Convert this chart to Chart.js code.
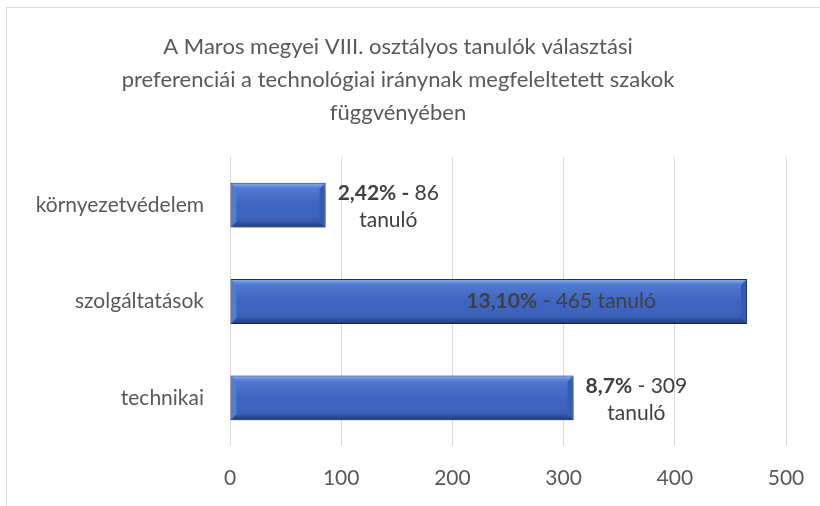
<!DOCTYPE html>
<html>
<head>
<meta charset="utf-8">
<script src="https://cdn.jsdelivr.net/npm/chart.js@4.4.1/dist/chart.umd.min.js"></script>
<style>
  body { margin: 0; background: #ffffff; }
  #wrap { position: relative; width: 820px; height: 506px; overflow: hidden; }
  #frame { position: absolute; left: 6px; top: 7px; width: 900px; height: 600px; border: 1px solid #d9d9d9; }
  #myChart { position: absolute; left: 0; top: 0; }
</style>
</head>
<body>
<div id="wrap">
  <div id="frame"></div>
  <canvas id="myChart" width="820" height="506"></canvas>
</div>
<script>
var categories = ['környezetvédelem', 'szolgáltatások', 'technikai'];
var students = [86, 465, 309];
var label_bold = ['2,42% -', '13,10%', '8,7%'];
var label_rest = [' 86', ' - 465 tanuló', ' - 309'];
var label_second = ['tanuló', '', 'tanuló'];
var title_lines = [
    'A Maros megyei VIII. osztályos tanulók választási',
    'preferenciái a technológiai iránynak megfeleltetett szakok',
    'függvényében'
];
var x_ticks = [0, 100, 200, 300, 400, 500];

var font_family = 'Lato, "Open Sans", sans-serif';
var font_size = 21;

// bevel + shadow look of the excel bars
var bevelPlugin = {
    id: 'bevel',
    beforeDatasetsDraw: function (chart) {
        var ctx = chart.ctx;
        ctx.save();
        ctx.shadowColor = 'rgba(0,0,0,0.35)';
        ctx.shadowBlur = 6;
        ctx.shadowOffsetX = 2;
        ctx.shadowOffsetY = 3;
    },
    afterDatasetsDraw: function (chart) {
        var ctx = chart.ctx;
        ctx.restore();
        var meta = chart.getDatasetMeta(0);
        meta.data.forEach(function (bar) {
            var left = bar.base, right = bar.x;
            var top = bar.y - bar.height / 2, bottom = bar.y + bar.height / 2;
            var b = 6;
            ctx.save();
            // top bevel
            var g = ctx.createLinearGradient(0, top, 0, top + b);
            g.addColorStop(0, 'rgba(150,185,245,0.95)');
            g.addColorStop(1, 'rgba(95,135,215,0.6)');
            ctx.fillStyle = g;
            ctx.beginPath();
            ctx.moveTo(left + 1, top + 1);
            ctx.lineTo(right - 1, top + 1);
            ctx.lineTo(right - b, top + b);
            ctx.lineTo(left + b, top + b);
            ctx.closePath();
            ctx.fill();
            // bottom bevel
            g = ctx.createLinearGradient(0, bottom - b, 0, bottom);
            g.addColorStop(0, 'rgba(40,70,140,0.45)');
            g.addColorStop(1, 'rgba(25,50,110,0.9)');
            ctx.fillStyle = g;
            ctx.beginPath();
            ctx.moveTo(left + 1, bottom - 1);
            ctx.lineTo(right - 1, bottom - 1);
            ctx.lineTo(right - b, bottom - b);
            ctx.lineTo(left + b, bottom - b);
            ctx.closePath();
            ctx.fill();
            // left bevel
            ctx.fillStyle = 'rgba(100,140,220,0.6)';
            ctx.beginPath();
            ctx.moveTo(left + 1, top + 1);
            ctx.lineTo(left + b, top + b);
            ctx.lineTo(left + b, bottom - b);
            ctx.lineTo(left + 1, bottom - 1);
            ctx.closePath();
            ctx.fill();
            // right bevel
            ctx.fillStyle = 'rgba(45,80,155,0.45)';
            ctx.beginPath();
            ctx.moveTo(right - 1, top + 1);
            ctx.lineTo(right - b, top + b);
            ctx.lineTo(right - b, bottom - b);
            ctx.lineTo(right - 1, bottom - 1);
            ctx.closePath();
            ctx.fill();
            // soft highlight in the upper body
            g = ctx.createLinearGradient(0, top + b, 0, bottom - b);
            g.addColorStop(0, 'rgba(120,160,235,0.35)');
            g.addColorStop(0.5, 'rgba(120,160,235,0.0)');
            g.addColorStop(1, 'rgba(20,40,100,0.12)');
            ctx.fillStyle = g;
            ctx.fillRect(left + b, top + b, right - left - 2 * b, bottom - top - 2 * b);
            ctx.restore();
        });
    }
};

// data labels: bold percentage + normal count
var labelPlugin = {
    id: 'barLabels',
    afterDatasetsDraw: function (chart) {
        var ctx = chart.ctx;
        var meta = chart.getDatasetMeta(0);
        var boldFont = 'bold ' + font_size + 'px ' + font_family;
        var normFont = font_size + 'px ' + font_family;
        ctx.save();
        ctx.fillStyle = '#404040';
        ctx.textBaseline = 'middle';
        ctx.textAlign = 'left';
        meta.data.forEach(function (bar, i) {
            ctx.font = boldFont;
            var w1 = ctx.measureText(label_bold[i]).width;
            ctx.font = normFont;
            var w2 = ctx.measureText(label_rest[i]).width;
            var total = w1 + w2;
            var cx, y1, y2;
            if (label_second[i] === '') {
                // inside the bar, towards the end
                cx = bar.x - 186;
                y1 = bar.y;
            } else {
                var blockW = Math.max(total, ctx.measureText(label_second[i]).width);
                cx = bar.x + 12 + blockW / 2;
                y1 = bar.y - 12;
                y2 = bar.y + 15;
            }
            var sx = cx - total / 2;
            ctx.font = boldFont;
            ctx.fillText(label_bold[i], sx, y1);
            ctx.font = normFont;
            ctx.fillText(label_rest[i], sx + w1, y1);
            if (label_second[i] !== '') {
                ctx.textAlign = 'center';
                ctx.fillText(label_second[i], cx, y2);
                ctx.textAlign = 'left';
            }
        });
        ctx.restore();
    }
};

function chart_students() {
    var ctx = document.getElementById('myChart').getContext('2d');
    var chartConfig = {
        type: 'bar',
        data: {
            labels: categories,
            datasets: [{
                data: students,
                backgroundColor: '#3d64c0',
                borderColor: '#1c346e',
                borderWidth: 1,
                borderSkipped: false,
                categoryPercentage: 1,
                barPercentage: 0.466
            }]
        },
        options: {
            indexAxis: 'y',
            responsive: false,
            animation: false,
            layout: {
                padding: { left: 10, right: 34, top: 0, bottom: 0 }
            },
            scales: {
                x: {
                    min: 0,
                    max: 500,
                    afterBuildTicks: function (scale) {
                        scale.ticks = x_ticks.map(function (v) { return { value: v }; });
                    },
                    afterFit: function (scale) {
                        scale.height = 60;
                        scale.paddingLeft = 0;
                        scale.paddingRight = 0;
                    },
                    grid: {
                        color: '#d9d9d9',
                        lineWidth: 1,
                        drawTicks: false
                    },
                    border: { display: false },
                    ticks: {
                        padding: 20,
                        color: '#595959',
                        font: { family: font_family, size: font_size }
                    }
                },
                y: {
                    afterFit: function (scale) {
                        scale.width = 220;
                    },
                    grid: { display: false },
                    border: { display: false },
                    ticks: {
                        padding: 18,
                        color: '#595959',
                        font: { family: font_family, size: font_size }
                    }
                }
            },
            plugins: {
                legend: { display: false },
                tooltip: { enabled: false },
                title: {
                    display: true,
                    text: title_lines,
                    color: '#595959',
                    font: { family: font_family, size: 22, weight: 'normal', lineHeight: 1.5 },
                    padding: { top: 30, bottom: 28 }
                }
            }
        },
        plugins: [bevelPlugin, labelPlugin]
    };
    var myChart = new Chart(ctx, chartConfig);
    return myChart;
}

var chart = chart_students();
</script>
</body>
</html>
